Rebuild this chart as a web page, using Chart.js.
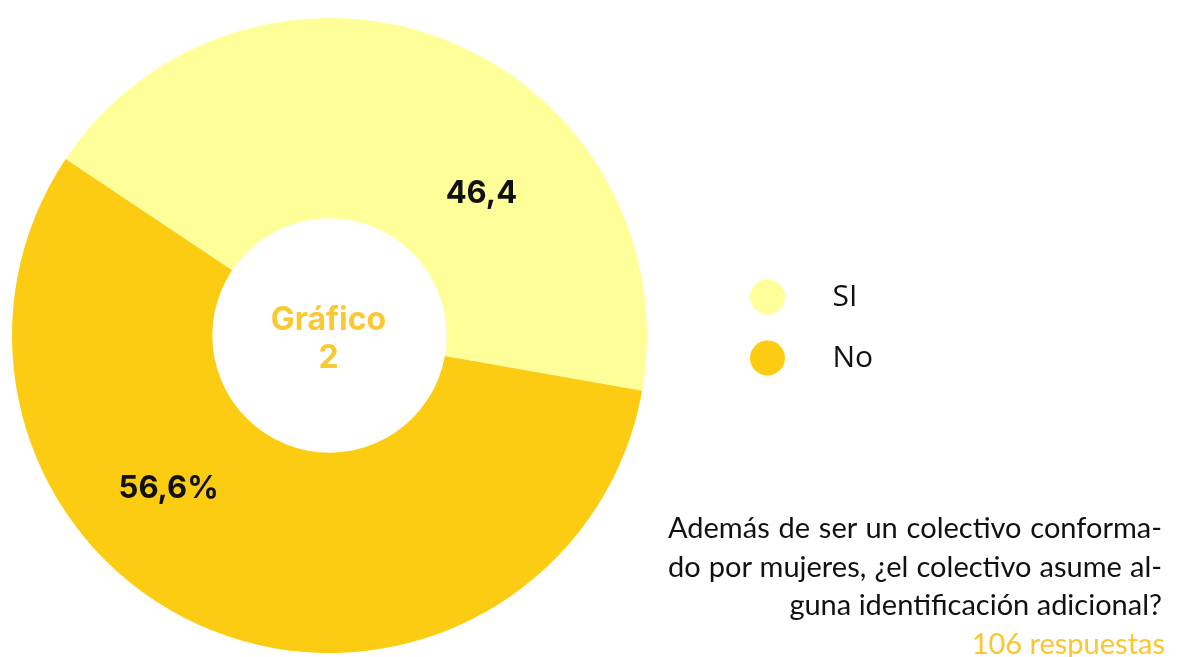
<!DOCTYPE html>
<html>
<head>
<meta charset="utf-8">
<script src="https://cdn.jsdelivr.net/npm/chart.js@4.4.1/dist/chart.umd.min.js"></script>
<style>
  html, body { margin:0; padding:0; background:#fff; }
  #wrap { position:relative; width:1181px; height:657px; overflow:hidden; }
  canvas { position:absolute; left:0; top:0; }
  #note { position:absolute; left:668px; top:508px; width:494px; font-family:Lato, sans-serif; font-size:29px; color:#111; }
  #note div { height:38.5px; line-height:38.5px; white-space:nowrap; }
  #note .j { text-align:justify; text-align-last:justify; }
  #note .r { text-align:right; }
  #note .resp { color:#FBC62E; text-align:right; margin-right:-3px; }
</style>
</head>
<body>
<div id="wrap">
  <canvas id="c" width="1181" height="657"></canvas>
  <div id="note">
    <div class="j">Además de ser un colectivo conforma-</div>
    <div class="j">do por mujeres, ¿el colectivo asume al-</div>
    <div class="r">guna identificación adicional?</div>
    <div class="resp">106 respuestas</div>
  </div>
</div>
<script>
const categories = ["SI", "No"];
const values = [43.4, 56.6];
const valueLabels = ["46,4", "56,6%"];
const colors = ["#FFFF99", "#FCCC13"];
const centerLines = ["Gráfico", "2"];

const labelPlugin = {
  id: 'labelPlugin',
  afterDatasetsDraw(chart, args, opts) {
    const ctx = chart.ctx;
    const meta = chart.getDatasetMeta(0);
    ctx.save();
    ctx.textAlign = 'center';
    ctx.textBaseline = 'middle';
    meta.data.forEach((arc, i) => {
      const p = arc.getProps(['x','y','startAngle','endAngle','outerRadius'], true);
      const f = opts.fractions[i];
      const a = p.startAngle + (p.endAngle - p.startAngle) * f;
      const r = p.outerRadius * opts.radii[i];
      ctx.font = 'bold 31px Inter, sans-serif';
      ctx.fillStyle = '#111';
      ctx.fillText(valueLabels[i], p.x + r * Math.cos(a), p.y + r * Math.sin(a));
    });
    // center text
    const c = meta.data[0];
    ctx.font = 'bold 32px Inter, sans-serif';
    ctx.fillStyle = '#F9C933';
    ctx.fillText(centerLines[0], c.x - 1, c.y - 15);
    ctx.fillText(centerLines[1], c.x - 1, c.y + 23);
    // legend
    ctx.textAlign = 'left';
    ctx.font = '30px "Open Sans", sans-serif';
    categories.forEach((cat, i) => {
      const y = opts.legendY + i * opts.legendGap;
      ctx.beginPath();
      ctx.arc(opts.legendX, y, 17.5, 0, Math.PI * 2);
      ctx.fillStyle = colors[i];
      ctx.fill();
      ctx.fillStyle = '#111';
      ctx.fillText(cat, opts.legendX + 65, y);
    });
    ctx.restore();
  }
};

new Chart(document.getElementById('c'), {
  type: 'doughnut',
  data: {
    labels: categories,
    datasets: [{
      data: values,
      backgroundColor: colors,
      borderWidth: 0,
      hoverOffset: 0
    }]
  },
  options: {
    responsive: false,
    animation: false,
    rotation: -56.2,
    cutout: '36.9%',
    layout: { padding: { left: 12, top: 18, right: 534, bottom: 4 } },
    plugins: {
      legend: { display: false },
      tooltip: { enabled: false },
      labelPlugin: { fractions: [0.66, 0.62], radii: [0.655, 0.70], legendX: 767.5, legendY: 297, legendGap: 61 }
    }
  },
  plugins: [labelPlugin]
});
</script>
</body>
</html>
